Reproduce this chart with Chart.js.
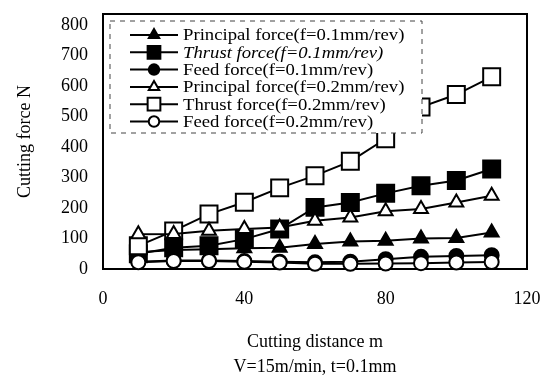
<!DOCTYPE html>
<html>
<head>
<meta charset="utf-8">
<script src="https://cdn.jsdelivr.net/npm/chart.js@4.4.0/dist/chart.umd.min.js"></script>
<style>
  html, body { margin: 0; padding: 0; background: #fff; }
  #wrap { width: 553px; height: 382px; }
</style>
</head>
<body>
<div id="wrap"><canvas id="chart"></canvas></div>
<script>
const distance = [10, 20, 30, 40, 50, 60, 70, 80, 90, 100, 110];
const principal01 = [55, 62, 65, 68, 70, 82, 90, 93, 100, 102, 120];
const thrust01 = [50, 70, 76, 98, 131, 202, 218, 248, 273, 290, 328];
const feed01 = [24, 28, 28, 26, 24, 22, 24, 32, 40, 43, 45];
const principal02 = [114, 115, 125, 131, 136, 158, 169, 189, 197, 218, 240];
const thrust02 = [76, 125, 180, 219, 266, 306, 353, 427, 531, 572, 630];
const feed02 = [22, 26, 26, 24, 21, 17, 17, 18, 19, 21, 23];

const xTicks = [0, 40, 80, 120];
const yTicks = [0, 100, 200, 300, 400, 500, 600, 700, 800];

const serif = "'Liberation Serif', 'DejaVu Serif', serif";

function series(label, values, style, filled, radius, order, italic) {
  return {
    label: label,
    data: values.map((v, i) => ({ x: distance[i], y: v })),
    borderColor: "#000",
    borderWidth: 2,
    backgroundColor: filled ? "#000" : "#fff",
    pointStyle: style,
    pointRadius: radius,
    pointBorderWidth: 2,
    pointBorderColor: "#000",
    pointBackgroundColor: filled ? "#000" : "#fff",
    tension: 0,
    clip: false,
    order: order,
    italic: !!italic,
  };
}

const datasets = [
  series("Principal force(f=0.1mm/rev)", principal01, "triangle", true, 8, 1),
  series("Thrust force(f=0.1mm/rev)", thrust01, "rect", true, 12, 1, true),
  series("Feed force(f=0.1mm/rev)", feed01, "circle", true, 7, 1),
  series("Principal force(f=0.2mm/rev)", principal02, "triangle", false, 8, 0),
  series("Thrust force(f=0.2mm/rev)", thrust02, "rect", false, 12, 0),
  series("Feed force(f=0.2mm/rev)", feed02, "circle", false, 7, 0),
];

// plot frame
const framePlugin = {
  id: "frame",
  beforeDatasetsDraw(chart) {
    const { ctx, chartArea: a } = chart;
    ctx.save();
    ctx.strokeStyle = "#000";
    ctx.lineWidth = 2;
    ctx.strokeRect(a.left, a.top, a.right - a.left, a.bottom - a.top);
    ctx.restore();
  },
};

// boxed legend inside the plot
const legendBox = {
  id: "legendBox",
  afterDatasetsDraw(chart) {
    const ctx = chart.ctx;
    const x0 = 110, y0 = 21, w = 312, h = 112;
    ctx.save();
    ctx.fillStyle = "#fff";
    ctx.fillRect(x0, y0, w, h);
    ctx.setLineDash([5, 5]);
    ctx.strokeStyle = "#444";
    ctx.lineWidth = 1;
    ctx.strokeRect(x0, y0, w, h);
    ctx.setLineDash([]);
    chart.data.datasets.forEach((ds, i) => {
      const y = 35 + i * 17.3;
      ctx.strokeStyle = "#000";
      ctx.lineWidth = 2;
      ctx.beginPath();
      ctx.moveTo(130, y);
      ctx.lineTo(178, y);
      ctx.stroke();
      ctx.fillStyle = ds.pointBackgroundColor;
      Chart.helpers.drawPoint(ctx, {
        pointStyle: ds.pointStyle,
        radius: ds.pointRadius * 0.75,
        rotation: 0,
        borderWidth: 2,
      }, 154, y);
      ctx.save();
      ctx.translate(183, y + 1);
      ctx.scale(1.1, 1);
      ctx.fillStyle = "#000";
      ctx.font = (ds.italic ? "italic " : "") + "17px " + serif;
      ctx.textBaseline = "middle";
      ctx.textAlign = "left";
      ctx.fillText(ds.label, 0, 0);
      ctx.restore();
    });
    ctx.restore();
  },
};

new Chart(document.getElementById("chart"), {
  type: "line",
  data: { datasets },
  options: {
    responsive: true,
    maintainAspectRatio: false,
    animation: false,
    layout: { padding: { top: 14, right: 26, left: 0, bottom: 0 } },
    plugins: {
      legend: { display: false },
      tooltip: { enabled: false },
    },
    scales: {
      x: {
        type: "linear",
        min: 0,
        max: 120,
        afterBuildTicks: (scale) => {
          scale.ticks = xTicks.map((v) => ({ value: v }));
        },
        afterFit: (scale) => {
          scale.height = 113;
          scale.paddingLeft = 0;
          scale.paddingRight = 0;
        },
        grid: { display: false, drawTicks: false },
        border: { display: false },
        ticks: {
          color: "#000",
          padding: 19,
          maxRotation: 0,
          font: { family: serif, size: 18 },
        },
        title: {
          display: true,
          text: ["Cutting distance m", "V=15m/min, t=0.1mm"],
          color: "#000",
          font: { family: serif, size: 18, lineHeight: 1.4 },
          padding: { top: 0, bottom: 2 },
        },
      },
      y: {
        min: 0,
        max: 836,
        afterBuildTicks: (scale) => {
          scale.ticks = yTicks.map((v) => ({ value: v }));
        },
        afterFit: (scale) => {
          scale.width = 103;
          scale.paddingTop = 0;
          scale.paddingBottom = 0;
        },
        grid: { display: false, drawTicks: false },
        border: { display: false },
        ticks: {
          color: "#000",
          padding: 15,
          font: { family: serif, size: 18 },
        },
        title: {
          display: true,
          text: "Cutting force N",
          color: "#000",
          font: { family: serif, size: 18 },
          padding: { top: 14, bottom: 0 },
        },
      },
    },
  },
  plugins: [framePlugin, legendBox],
});
</script>
</body>
</html>
